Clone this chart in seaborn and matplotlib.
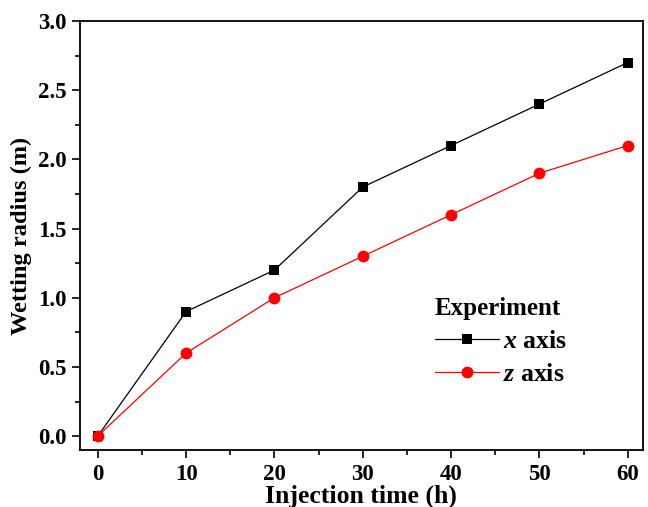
import matplotlib
matplotlib.use("Agg")
import matplotlib.pyplot as plt
import seaborn as sns
import pandas as pd
from matplotlib.ticker import MultipleLocator

time_h = [0, 10, 20, 30, 40, 50, 60]
x_axis = [0.0, 0.9, 1.2, 1.8, 2.1, 2.4, 2.7]
z_axis = [0.0, 0.6, 1.0, 1.3, 1.6, 1.9, 2.1]

sns.set_style("ticks")
plt.rcParams['font.family'] = ['Liberation Serif', 'DejaVu Serif']
plt.rcParams['mathtext.fontset'] = 'custom'
plt.rcParams['mathtext.it'] = 'Liberation Serif:italic:bold'
plt.rcParams['mathtext.rm'] = 'Liberation Serif:bold'
for k in ['text.color', 'axes.labelcolor', 'xtick.color', 'ytick.color', 'axes.edgecolor']:
    plt.rcParams[k] = 'black'

fig = plt.figure(figsize=(6.48, 5.07), dpi=100)
ax = fig.add_axes([0.1235, 0.1124, 0.8685, 0.8462])

dfx = pd.DataFrame({"t": time_h, "r": x_axis})
dfz = pd.DataFrame({"t": time_h, "r": z_axis})
sns.lineplot(data=dfx, x="t", y="r", ax=ax, color="black", lw=0.9,
             marker="s", markersize=7.5, markeredgewidth=0, label="$x$ axis")
sns.lineplot(data=dfz, x="t", y="r", ax=ax, color="red", lw=0.9,
             marker="o", markersize=8.5, markeredgewidth=0, label="$z$ axis")

ax.set_xlim(-2.0, 61.7)
ax.set_ylim(-0.1, 3.0)
ax.xaxis.set_major_locator(MultipleLocator(10))
ax.xaxis.set_minor_locator(MultipleLocator(5))
ax.yaxis.set_major_locator(MultipleLocator(0.5))
ax.yaxis.set_minor_locator(MultipleLocator(0.25))
ax.tick_params(which='major', direction='out', length=6, width=1.2, labelsize=16.5, pad=4, colors='black')
ax.tick_params(which='minor', direction='out', length=3.5, width=1.2, colors='black')
for lab in ax.get_xticklabels() + ax.get_yticklabels():
    lab.set_fontweight('bold')
for s in ax.spines.values():
    s.set_linewidth(1.3)
    s.set_color('black')
    s.set_visible(True)
ax.set_xlabel("Injection time (h)", fontsize=18.5, fontweight='bold', labelpad=0, color='black')
ax.set_ylabel("Wetting radius (m)", fontsize=17.6, fontweight='bold', labelpad=4, color='black')

leg = ax.legend(title="Experiment", loc="lower left", bbox_to_anchor=(0.6035, 0.113),
                frameon=False, prop={'size': 18.5, 'weight': 'bold'},
                title_fontproperties={'size': 18, 'weight': 'bold'},
                handlelength=2.5, handletextpad=0.15, labelspacing=0.4,
                borderaxespad=0.2)
leg._legend_box.align = "left"
leg.get_title().set_color('black')
for t in leg.get_texts():
    t.set_color('black')

fig.savefig("out.png", dpi=100)
